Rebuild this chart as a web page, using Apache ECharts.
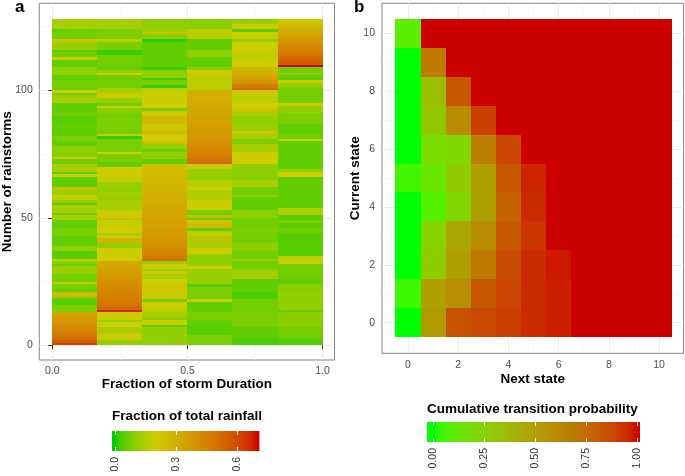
<!DOCTYPE html>
<html><head><meta charset="utf-8">
<script src="https://cdn.jsdelivr.net/npm/echarts@6/dist/echarts.min.js"></script>
<style>html,body{margin:0;padding:0;background:#fff}#c{width:685px;height:476px}</style>
</head><body><div id="c"></div>
<script>
// ---------- Panel a data: fraction of total rainfall per sixth of storm duration ----------
const durationEdges = [0, 1/6, 2/6, 3/6, 4/6, 5/6, 1];
// each array: rainstorm rows 0..127 (bottom to top)
const col0 = [
0.62,0.56,0.52,0.49,0.47,0.45,0.43,0.41,0.40,0.38,
0.37,0.35,0.34,0.08,0.08,0.08,0.04,0.04,0.07,0.27,
0.27,0.05,0.08,0.08,0.22,0.07,0.07,0.07,0.12,0.12,
0.12,0.05,0.11,0.18,0.04,0.04,0.04,0.11,0.11,0.05,
0.05,0.05,0.05,0.08,0.08,0.08,0.05,0.05,0.05,0.14,
0.14,0.07,0.14,0.14,0.14,0.04,0.11,0.19,0.19,0.12,
0.12,0.26,0.04,0.04,0.04,0.05,0.20,0.04,0.14,0.14,
0.14,0.07,0.07,0.19,0.10,0.10,0.10,0.10,0.05,0.05,
0.08,0.08,0.05,0.05,0.05,0.05,0.05,0.04,0.04,0.04,
0.07,0.05,0.05,0.05,0.05,0.14,0.14,0.12,0.07,0.20,
0.07,0.07,0.07,0.07,0.05,0.05,0.11,0.11,0.11,0.05,
0.05,0.05,0.22,0.07,0.07,0.04,0.12,0.12,0.12,0.24,
0.07,0.07,0.07,0.05,0.14,0.14,0.14,0.14];
const col1 = [
0.12,0.12,0.19,0.19,0.22,0.14,0.14,0.20,0.20,0.12,
0.19,0.19,0.21,0.66,0.52,0.50,0.48,0.47,0.46,0.45,
0.44,0.43,0.42,0.41,0.40,0.39,0.38,0.37,0.36,0.35,
0.34,0.33,0.32,0.20,0.20,0.20,0.20,0.20,0.11,0.11,
0.28,0.28,0.20,0.14,0.20,0.20,0.21,0.21,0.17,0.27,
0.22,0.19,0.19,0.14,0.14,0.14,0.14,0.12,0.12,0.14,
0.11,0.11,0.12,0.12,0.19,0.17,0.21,0.21,0.21,0.21,
0.05,0.05,0.08,0.08,0.08,0.20,0.08,0.08,0.08,0.08,
0.08,0.01,0.22,0.07,0.08,0.08,0.08,0.08,0.08,0.07,
0.07,0.10,0.10,0.21,0.07,0.12,0.12,0.19,0.19,0.14,
0.14,0.07,0.07,0.07,0.07,0.07,0.21,0.11,0.05,0.07,
0.07,0.07,0.07,0.07,0.02,0.02,0.08,0.08,0.08,0.17,
0.08,0.08,0.08,0.08,0.14,0.14,0.14,0.14];
const col2 = [
0.11,0.11,0.11,0.11,0.11,0.11,0.11,0.04,0.19,0.19,
0.11,0.14,0.14,0.17,0.17,0.20,0.20,0.07,0.21,0.21,
0.17,0.22,0.22,0.22,0.20,0.20,0.14,0.14,0.22,0.12,
0.19,0.19,0.12,0.50,0.47,0.45,0.43,0.42,0.41,0.40,
0.39,0.38,0.37,0.37,0.36,0.36,0.35,0.35,0.34,0.34,
0.33,0.33,0.32,0.32,0.31,0.31,0.30,0.30,0.29,0.29,
0.28,0.28,0.28,0.27,0.27,0.27,0.26,0.26,0.26,0.25,
0.25,0.05,0.05,0.12,0.12,0.12,0.05,0.12,0.12,0.24,
0.20,0.20,0.20,0.28,0.22,0.22,0.22,0.27,0.27,0.27,
0.21,0.21,0.07,0.20,0.20,0.20,0.20,0.19,0.19,0.19,
0.17,0.01,0.08,0.08,0.02,0.11,0.11,0.11,0.02,0.05,
0.05,0.05,0.05,0.05,0.05,0.05,0.05,0.05,0.05,0.01,
0.10,0.10,0.24,0.12,0.11,0.11,0.11,0.11];
const col3 = [
0.08,0.08,0.08,0.08,0.04,0.04,0.04,0.04,0.05,0.05,
0.08,0.08,0.08,0.05,0.05,0.05,0.05,0.19,0.08,0.08,
0.08,0.08,0.08,0.04,0.12,0.12,0.12,0.12,0.12,0.12,
0.20,0.11,0.11,0.11,0.11,0.11,0.20,0.20,0.14,0.14,
0.26,0.14,0.27,0.17,0.17,0.05,0.26,0.26,0.22,0.05,
0.27,0.07,0.07,0.20,0.20,0.20,0.20,0.15,0.15,0.15,
0.15,0.20,0.17,0.17,0.17,0.11,0.12,0.12,0.12,0.19,
0.19,0.52,0.49,0.47,0.45,0.44,0.43,0.42,0.41,0.40,
0.39,0.38,0.37,0.37,0.36,0.36,0.35,0.35,0.34,0.34,
0.33,0.33,0.32,0.32,0.31,0.31,0.30,0.30,0.29,0.29,
0.17,0.17,0.17,0.17,0.17,0.17,0.22,0.20,0.10,0.05,
0.05,0.05,0.05,0.11,0.11,0.11,0.05,0.05,0.05,0.05,
0.17,0.17,0.17,0.17,0.10,0.10,0.10,0.10];
const col4 = [
0.03,0.03,0.03,0.05,0.05,0.05,0.05,0.08,0.08,0.08,
0.08,0.08,0.08,0.07,0.07,0.07,0.07,0.07,0.03,0.03,
0.03,0.05,0.05,0.05,0.05,0.05,0.14,0.14,0.14,0.11,
0.07,0.07,0.07,0.12,0.07,0.07,0.07,0.10,0.10,0.10,
0.07,0.07,0.07,0.07,0.08,0.08,0.07,0.07,0.07,0.07,
0.10,0.10,0.10,0.05,0.05,0.05,0.05,0.05,0.11,0.07,
0.07,0.07,0.14,0.14,0.14,0.10,0.10,0.10,0.10,0.11,
0.11,0.20,0.20,0.20,0.20,0.20,0.14,0.14,0.14,0.08,
0.08,0.14,0.14,0.23,0.12,0.12,0.12,0.11,0.11,0.11,
0.14,0.14,0.24,0.20,0.20,0.17,0.17,0.17,0.22,0.22,
0.53,0.47,0.42,0.38,0.35,0.33,0.31,0.29,0.28,0.20,
0.20,0.20,0.18,0.18,0.18,0.22,0.20,0.20,0.20,0.11,
0.19,0.19,0.19,0.04,0.20,0.20,0.12,0.12];
const col5 = [
0.04,0.04,0.04,0.07,0.07,0.07,0.07,0.10,0.10,0.10,
0.10,0.10,0.10,0.05,0.11,0.11,0.11,0.11,0.11,0.11,
0.11,0.10,0.10,0.10,0.05,0.05,0.07,0.07,0.07,0.07,
0.07,0.07,0.19,0.17,0.17,0.04,0.04,0.04,0.04,0.04,
0.04,0.04,0.04,0.04,0.07,0.07,0.04,0.04,0.08,0.04,
0.04,0.15,0.15,0.15,0.05,0.05,0.05,0.05,0.05,0.05,
0.05,0.05,0.05,0.05,0.05,0.05,0.20,0.20,0.11,0.05,
0.05,0.05,0.05,0.05,0.05,0.05,0.05,0.05,0.05,0.05,
0.21,0.07,0.07,0.05,0.05,0.05,0.05,0.08,0.08,0.08,
0.08,0.11,0.11,0.11,0.21,0.07,0.07,0.07,0.07,0.07,
0.07,0.11,0.11,0.21,0.05,0.05,0.11,0.07,0.07,0.70,
0.56,0.54,0.52,0.50,0.48,0.46,0.44,0.42,0.40,0.38,
0.36,0.34,0.32,0.30,0.28,0.26,0.24,0.22];

// ---------- Panel b data: cumulative transition probability (index = next state) ----------
const nextStates = [0,1,2,3,4,5,6,7,8,9,10];
const state0  = [0.00,0.52,0.84,0.87,0.90,0.95,0.97,1,1,1,1];
const state1  = [0.04,0.50,0.58,0.83,0.88,0.95,0.97,1,1,1,1];
const state2  = [0.00,0.27,0.50,0.68,0.86,0.95,0.98,1,1,1,1];
const state3  = [0.00,0.24,0.46,0.60,0.82,0.93,1,1,1,1,1];
const state4  = [0.00,0.08,0.22,0.50,0.78,0.95,1,1,1,1,1];
const state5  = [0.05,0.13,0.28,0.50,0.83,0.96,1,1,1,1,1];
const state6  = [0.00,0.18,0.21,0.66,0.88,1,1,1,1,1,1];
const state7  = [0.00,0.30,0.60,0.90,1,1,1,1,1,1,1];
const state8  = [0.00,0.35,0.83,1,1,1,1,1,1,1,1];
const state9  = [0.00,0.68,1,1,1,1,1,1,1,1,1];
const state10 = [0.10,1,1,1,1,1,1,1,1,1,1];

// ---------- ticks ----------
const xTicksA = [0, 0.5, 1.0];
const xMinorA = [0.25, 0.75];
const yTicksA = [0, 50, 100];
const yMinorA = [25, 75, 125];
const ticksB = [0, 2, 4, 6, 8, 10];
const minorB = [1, 3, 5, 7, 9];
const legendTicksA = [0, 0.3, 0.6];
const legendTicksB = [0, 0.25, 0.5, 0.75, 1];

// ---------- colour helpers (Lab interpolation, like ggplot) ----------
function hex2rgb(h){return [parseInt(h.slice(1,3),16),parseInt(h.slice(3,5),16),parseInt(h.slice(5,7),16)];}
function s2l(c){c/=255;return c<=0.04045?c/12.92:Math.pow((c+0.055)/1.055,2.4);}
function l2s(c){c=c<=0.0031308?12.92*c:1.055*Math.pow(Math.max(c,0),1/2.4)-0.055;return Math.max(0,Math.min(255,Math.round(c*255)));}
function rgb2lab(rgb){const [r,g,b]=rgb.map(s2l);const x=(0.4124*r+0.3576*g+0.1805*b)/0.95047,y=0.2126*r+0.7152*g+0.0722*b,z=(0.0193*r+0.1192*g+0.9505*b)/1.08883;
 const f=t=>t>0.008856?Math.cbrt(t):7.787*t+16/116;const fx=f(x),fy=f(y),fz=f(z);return [116*fy-16,500*(fx-fy),200*(fy-fz)];}
function lab2hex(lab){const fy=(lab[0]+16)/116,fx=fy+lab[1]/500,fz=fy-lab[2]/200;const fi=t=>t*t*t>0.008856?t*t*t:(t-16/116)/7.787;
 const x=fi(fx)*0.95047,y=fi(fy),z=fi(fz)*1.08883;const r=3.2406*x-1.5372*y-0.4986*z,g=-0.9689*x+1.8758*y+0.0415*z,b=0.0557*x-0.2040*y+1.0570*z;
 return '#'+[r,g,b].map(l2s).map(v=>v.toString(16).padStart(2,'0')).join('');}
function makeScale(stops){const labs=stops.map(s=>[s[0],rgb2lab(hex2rgb(s[1]))]);
 return function(v){if(v<=labs[0][0])return lab2hex(labs[0][1]);for(let i=1;i<labs.length;i++){if(v<=labs[i][0]){const t=(v-labs[i-1][0])/(labs[i][0]-labs[i-1][0]);const a=labs[i-1][1],b=labs[i][1];return lab2hex([a[0]+(b[0]-a[0])*t,a[1]+(b[1]-a[1])*t,a[2]+(b[2]-a[2])*t]);}}return lab2hex(labs[labs.length-1][1]);};}
const scaleA = makeScale([[0,'#00cd00'],[0.2,'#cdcd00'],[0.7,'#cd0000']]);
const scaleB = makeScale([[0,'#00ff00'],[1,'#cd0000']]);
const rangeA=[0,0.7], rangeB=[0,1];
function samples(scale,lo,hi,n){const out=[];for(let i=0;i<=n;i++)out.push(scale(lo+(hi-lo)*i/n));return out;}
function barGradient(scale,lo,hi,axMin,axMax){const stops=[];const n=50;for(let i=0;i<=n;i++){const v=lo+(hi-lo)*i/n;stops.push({offset:(v-axMin)/(axMax-axMin),color:scale(v)});}
 return new echarts.graphic.LinearGradient(0,0,1,0,stops);}

// ---------- build data ----------
const colsA=[col0,col1,col2,col3,col4,col5];
const dataA=[];colsA.forEach((col,c)=>col.forEach((v,r)=>dataA.push([c,r,v])));
const statesB=[state0,state1,state2,state3,state4,state5,state6,state7,state8,state9,state10];
const dataB=[];statesB.forEach((row,y)=>row.forEach((v,i)=>dataB.push([nextStates[i],y,v])));

const FF='"Liberation Sans", Arial, sans-serif';
const tickLbl={color:'#4d4d4d',fontSize:10.5,fontFamily:FF};
const nameSt={color:'#000',fontSize:13.5,fontWeight:'bold',fontFamily:FF};
const major={show:true,lineStyle:{color:'#ebebeb',width:1}};
const minor={show:true,lineStyle:{color:'#f3f3f3',width:0.6}};
function mainAxis(o){return Object.assign({type:'value',axisLine:{show:false},nameMoveOverlap:false,
 axisTick:{show:true,length:4,lineStyle:{color:'#333',width:1},customValues:o.ticks},
 axisLabel:Object.assign({customValues:o.ticks,formatter:o.fmt},tickLbl,{margin:o.margin}),
 splitLine:major},o.extra);}
function minorAxis(o){return Object.assign({type:'value',axisLine:{show:false},axisTick:{show:false,customValues:o.ticks},
 axisLabel:{show:false,customValues:o.ticks},splitLine:minor},o.extra);}

const AX={min:-0.048,max:1.044}, AY={min:-5.77,max:134.16};
const BX={min:-1.036,max:10.976}, BY={min:-1.057,max:11.037};
const LA={min:-0.0148,max:0.7103}, LB={min:-0.0294,max:1.0147};

const chart=echarts.init(document.getElementById('c'),null,{renderer:'canvas',width:685,height:476});
chart.setOption({
 animation:false,
 backgroundColor:'#fff',
 textStyle:{fontFamily:FF},
 title:[
  {text:'a',left:15,top:-1,padding:0,textStyle:{fontSize:17,fontWeight:'bold',color:'#000',fontFamily:FF}},
  {text:'b',left:354,top:-1,padding:0,textStyle:{fontSize:17,fontWeight:'bold',color:'#000',fontFamily:FF}},
  {text:'Fraction of total rainfall',left:112,top:409,padding:0,textStyle:nameSt},
  {text:'Cumulative transition probability',left:427,top:402,padding:0,textStyle:nameSt}
 ],
 grid:[
  {left:39.3,top:3.3,width:295.2,height:356.7,show:true,borderColor:'#858585',borderWidth:1,backgroundColor:'#fff',outerBoundsMode:'none'},
  {left:382,top:3.3,width:301.5,height:350,show:true,borderColor:'#858585',borderWidth:1,backgroundColor:'#fff',outerBoundsMode:'none'},
  {left:112,top:431,width:147.4,height:20,show:true,borderWidth:0,backgroundColor:barGradient(scaleA,rangeA[0],rangeA[1],LA.min,LA.max),outerBoundsMode:'none'},
  {left:427,top:422,width:213,height:20,show:true,borderWidth:0,backgroundColor:barGradient(scaleB,rangeB[0],rangeB[1],LB.min,LB.max),outerBoundsMode:'none'}
 ],
 xAxis:[
  mainAxis({ticks:xTicksA,fmt:v=>v.toFixed(1),margin:6,extra:Object.assign({gridIndex:0,position:'bottom',name:'Fraction of storm Duration',nameLocation:'middle',nameGap:17.5,nameTextStyle:nameSt},AX)}),
  minorAxis({ticks:xMinorA,extra:Object.assign({gridIndex:0,position:'bottom'},AX)}),
  mainAxis({ticks:ticksB,fmt:v=>String(v),margin:6,extra:Object.assign({gridIndex:1,position:'bottom',name:'Next state',nameLocation:'middle',nameGap:18.5,nameTextStyle:nameSt},BX)}),
  minorAxis({ticks:minorB,extra:Object.assign({gridIndex:1,position:'bottom'},BX)}),
  Object.assign({gridIndex:2,type:'value',position:'bottom',axisLine:{show:false},splitLine:{show:false},
   axisTick:{show:true,inside:true,length:4,lineStyle:{color:'#fff',width:1},customValues:legendTicksA},
   axisLabel:Object.assign({customValues:legendTicksA,formatter:v=>v.toFixed(1),rotate:90,margin:6},tickLbl,{color:'#333'})},LA),
  Object.assign({gridIndex:2,type:'value',position:'top',axisLine:{show:false},splitLine:{show:false},
   axisTick:{show:true,inside:true,length:4,lineStyle:{color:'#fff',width:1},customValues:legendTicksA},
   axisLabel:{show:false,customValues:legendTicksA}},LA),
  Object.assign({gridIndex:3,type:'value',position:'bottom',axisLine:{show:false},splitLine:{show:false},
   axisTick:{show:true,inside:true,length:4,lineStyle:{color:'#fff',width:1},customValues:legendTicksB},
   axisLabel:Object.assign({customValues:legendTicksB,formatter:v=>v.toFixed(2),rotate:90,margin:6},tickLbl,{color:'#333'})},LB),
  Object.assign({gridIndex:3,type:'value',position:'top',axisLine:{show:false},splitLine:{show:false},
   axisTick:{show:true,inside:true,length:4,lineStyle:{color:'#fff',width:1},customValues:legendTicksB},
   axisLabel:{show:false,customValues:legendTicksB}},LB)
 ],
 yAxis:[
  mainAxis({ticks:yTicksA,fmt:v=>String(v),margin:6.5,extra:Object.assign({gridIndex:0,position:'left',name:'Number of rainstorms',nameLocation:'middle',nameGap:25,nameTextStyle:nameSt},AY)}),
  minorAxis({ticks:yMinorA,extra:Object.assign({gridIndex:0,position:'left'},AY)}),
  mainAxis({ticks:ticksB,fmt:v=>String(v),margin:7,extra:Object.assign({gridIndex:1,position:'left',name:'Current state',nameLocation:'middle',nameGap:20,nameTextStyle:nameSt},BY)}),
  minorAxis({ticks:minorB,extra:Object.assign({gridIndex:1,position:'left'},BY)}),
  {gridIndex:2,type:'value',min:0,max:1,show:false},
  {gridIndex:3,type:'value',min:0,max:1,show:false}
 ],
 visualMap:[
  {type:'continuous',show:false,seriesIndex:0,dimension:2,min:rangeA[0],max:rangeA[1],inRange:{color:samples(scaleA,rangeA[0],rangeA[1],70)}},
  {type:'continuous',show:false,seriesIndex:1,dimension:2,min:rangeB[0],max:rangeB[1],inRange:{color:samples(scaleB,rangeB[0],rangeB[1],50)}}
 ],
 series:[
  {type:'custom',xAxisIndex:0,yAxisIndex:0,data:dataA,z:3,
   renderItem:function(params,api){const c=api.value(0),r=api.value(1);
    const x0=Math.round(api.coord([durationEdges[c],r])[0]);const x1=Math.round(api.coord([durationEdges[c+1],r])[0]);
    const yb=Math.round(api.coord([0,r])[1]);const yt=Math.round(api.coord([0,r+1])[1]);
    return {type:'rect',shape:{x:x0,y:yt,width:x1-x0,height:yb-yt},style:{fill:api.visual('color')}};}},
  {type:'custom',xAxisIndex:2,yAxisIndex:2,data:dataB,z:3,
   renderItem:function(params,api){const x=api.value(0),y=api.value(1);
    const p0=api.coord([x-0.5,y-0.5]),p1=api.coord([x+0.5,y+0.5]);
    const x0=Math.round(p0[0]),x1=Math.round(p1[0]),yb=Math.round(p0[1]),yt=Math.round(p1[1]);
    return {type:'rect',shape:{x:x0,y:yt,width:x1-x0,height:yb-yt},style:{fill:api.visual('color')}};}}
 ]
});
</script></body></html>
